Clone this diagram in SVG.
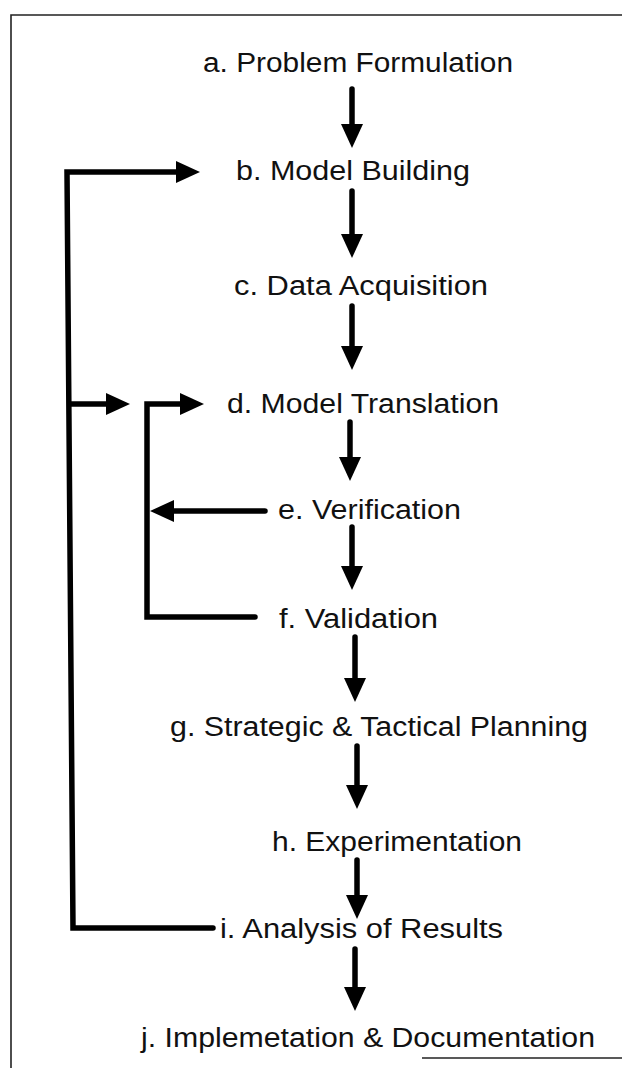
<svg xmlns="http://www.w3.org/2000/svg" width="622" height="1068" viewBox="0 0 622 1068">
  <defs>
    <style>
      .lbl { font-family: "Liberation Sans", Arial, sans-serif; font-size: 27px; fill: #111; }
      .flow { fill: none; stroke: #000; stroke-width: 5.5; stroke-linecap: round; stroke-linejoin: miter; }
      .frame { fill: none; stroke: #222; stroke-width: 1.6; }
    </style>
    <marker id="head" markerUnits="userSpaceOnUse" markerWidth="26" markerHeight="24" refX="1" refY="11" orient="auto">
      <path d="M0,0 L24,11 L0,22 Z" fill="#000"/>
    </marker>
  </defs>

  <rect width="622" height="1068" fill="#fff"/>

  <!-- page frame -->
  <g id="frame">
    <path class="frame" d="M11,1068 V15 H622"/>
    <path class="frame" d="M422,1058 H622" stroke-width="2"/>
  </g>

  <!-- steps -->
  <g id="step-a"><text class="lbl" x="203" y="72" textLength="310" lengthAdjust="spacingAndGlyphs">a. Problem Formulation</text></g>
  <g id="step-b"><text class="lbl" x="236" y="180" textLength="234" lengthAdjust="spacingAndGlyphs">b. Model Building</text></g>
  <g id="step-c"><text class="lbl" x="234" y="295" textLength="254" lengthAdjust="spacingAndGlyphs">c. Data Acquisition</text></g>
  <g id="step-d"><text class="lbl" x="227" y="413" textLength="272" lengthAdjust="spacingAndGlyphs">d. Model Translation</text></g>
  <g id="step-e"><text class="lbl" x="278" y="519" textLength="183" lengthAdjust="spacingAndGlyphs">e. Verification</text></g>
  <g id="step-f"><text class="lbl" x="279" y="628" textLength="159" lengthAdjust="spacingAndGlyphs">f. Validation</text></g>
  <g id="step-g"><text class="lbl" x="170" y="736" textLength="418" lengthAdjust="spacingAndGlyphs">g. Strategic &amp; Tactical Planning</text></g>
  <g id="step-h"><text class="lbl" x="272" y="851" textLength="250" lengthAdjust="spacingAndGlyphs">h. Experimentation</text></g>
  <g id="step-i"><text class="lbl" x="220" y="938" textLength="283" lengthAdjust="spacingAndGlyphs">i. Analysis of Results</text></g>
  <g id="step-j"><text class="lbl" x="141" y="1047" textLength="454" lengthAdjust="spacingAndGlyphs">j. Implemetation &amp; Documentation</text></g>

  <!-- connectors -->
  <g id="connectors">
    <path class="flow" d="M352,89 V125" marker-end="url(#head)"/>
    <path class="flow" d="M352,191 V235" marker-end="url(#head)"/>
    <path class="flow" d="M352,306 V347" marker-end="url(#head)"/>
    <path class="flow" d="M350,422 V458" marker-end="url(#head)"/>
    <path class="flow" d="M352,527 V567" marker-end="url(#head)"/>
    <path class="flow" d="M355,637 V679" marker-end="url(#head)"/>
    <path class="flow" d="M357,746 V786" marker-end="url(#head)"/>
    <path class="flow" d="M357,860 V896" marker-end="url(#head)"/>
    <path class="flow" d="M355,949 V988" marker-end="url(#head)"/>

    <!-- outer feedback loop: results back to model building -->
    <path class="flow" d="M213,928 H73 L67,172 H177" marker-end="url(#head)"/>
    <path class="flow" d="M70,404 H107" marker-end="url(#head)"/>

    <!-- inner loop: verification / validation back to translation -->
    <path class="flow" d="M255,617 H147 V404 H181" marker-end="url(#head)"/>
    <path class="flow" d="M265,511 H173" marker-end="url(#head)"/>
  </g>
</svg>
